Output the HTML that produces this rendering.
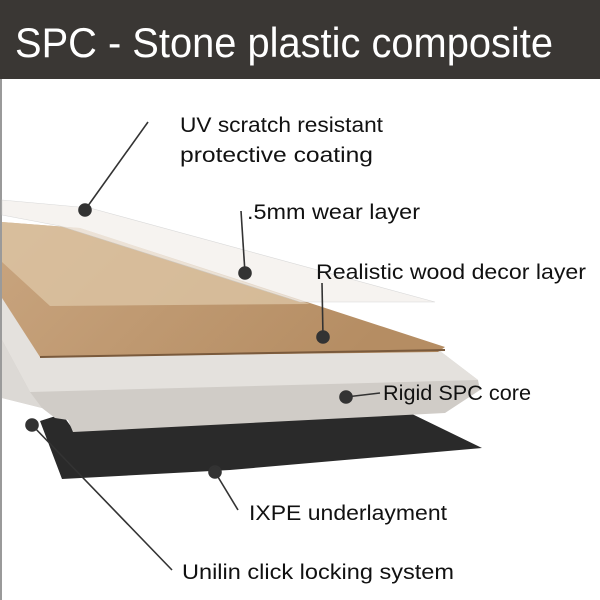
<!DOCTYPE html>
<html><head><style>body{margin:0;background:#fff}svg{display:block}</style></head><body>
<svg width="600" height="600" viewBox="0 0 600 600" xmlns="http://www.w3.org/2000/svg" font-family="Liberation Sans, sans-serif">
<defs>
<linearGradient id="wood" x1="0" y1="0" x2="1" y2="0.3"><stop offset="0" stop-color="#c9a57f"/><stop offset="1" stop-color="#b58d63"/></linearGradient>
</defs>
<rect width="600" height="600" fill="#fff"/>
<rect width="600" height="79" fill="#3a3734"/>
<rect x="0" y="79" width="2" height="521" fill="#9a9a9a"/>
<text x="15" y="57" font-size="42" fill="#fff" textLength="538" lengthAdjust="spacingAndGlyphs">SPC - Stone plastic composite</text>
<polygon points="40,421 62,414 72,428 410,413 482,448 230,470 62,479" fill="#2a2a2a"/>
<polygon points="2,298 40,357 440,351 478,380 480,390 445,413 73,432 68,420 55,418 42,408 2,398" fill="#d0ccc7"/>
<polygon points="2,298 40,357 440,351 478,380 30,392 2,340" fill="#e4e1dd"/>
<polygon points="2,340 30,392 42,408 2,398" fill="#dcd9d5"/>
<polygon points="2,222 80,228 445,347 438,352 40,357 2,298" fill="url(#wood)"/>
<polygon points="2,222 80,228 310,304 50,306 2,262" fill="#dcc4a4" opacity="0.8"/>
<line x1="40" y1="357" x2="445" y2="350" stroke="#7a5a3c" stroke-width="2"/>
<polygon points="2,200 90,208 435,302 300,302 60,226 2,215" fill="#f3efeb" opacity="0.75" stroke="#ccc" stroke-width="0.6"/>
<g stroke="#333" stroke-width="1.6" fill="#333">
<line x1="85" y1="210" x2="148" y2="122"/><circle cx="85" cy="210" r="6"/>
<line x1="245" y1="273" x2="241" y2="211"/><circle cx="245" cy="273" r="6"/>
<line x1="323" y1="337" x2="322" y2="283"/><circle cx="323" cy="337" r="6"/>
<line x1="346" y1="397" x2="380" y2="393"/><circle cx="346" cy="397" r="6"/>
<line x1="215" y1="472" x2="238" y2="510"/><circle cx="215" cy="472" r="6"/>
<line x1="32" y1="425" x2="172" y2="570"/><circle cx="32" cy="425" r="6"/>
</g>
<g font-size="21" fill="#111">
<text x="180" y="132" textLength="203" lengthAdjust="spacingAndGlyphs">UV scratch resistant</text>
<text x="180" y="162" textLength="193" lengthAdjust="spacingAndGlyphs">protective coating</text>
<text x="247" y="219" textLength="173" lengthAdjust="spacingAndGlyphs">.5mm wear layer</text>
<text x="316" y="279" textLength="270" lengthAdjust="spacingAndGlyphs">Realistic wood decor layer</text>
<text x="383" y="400" textLength="148" lengthAdjust="spacingAndGlyphs">Rigid SPC core</text>
<text x="249" y="520" textLength="198" lengthAdjust="spacingAndGlyphs">IXPE underlayment</text>
<text x="182" y="579" textLength="272" lengthAdjust="spacingAndGlyphs">Unilin click locking system</text>
</g>
</svg>
</body></html>
